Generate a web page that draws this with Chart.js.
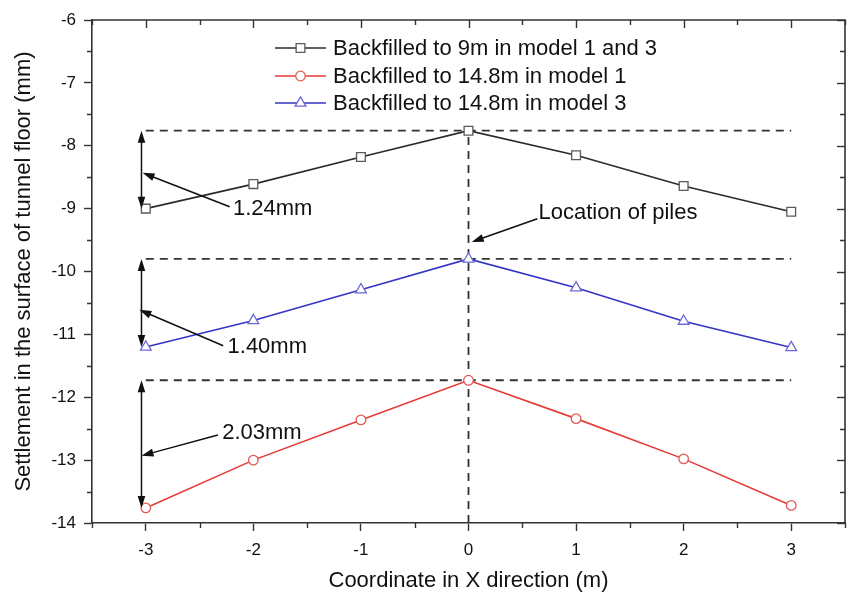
<!DOCTYPE html>
<html>
<head>
<meta charset="utf-8">
<script src="https://cdn.jsdelivr.net/npm/chart.js@4/dist/chart.umd.min.js"></script>
<style>
  html, body { margin: 0; padding: 0; background: #ffffff; }
  #wrap { width: 848px; height: 592px; }
</style>
</head>
<body>
<div id="wrap"><canvas id="c" width="848" height="592"></canvas></div>
<script>
// ---- data -------------------------------------------------------------
const xPositions = [-3, -2, -1, 0, 1, 2, 3];
const backfill9m = [-9.00, -8.61, -8.18, -7.76, -8.15, -8.64, -9.05];
const backfill148Model1 = [-13.76, -13.00, -12.36, -11.73, -12.34, -12.98, -13.72];
const backfill148Model3 = [-11.20, -10.78, -10.29, -9.80, -10.26, -10.79, -11.21];
const seriesLabels = [
  'Backfilled to 9m in model 1 and 3',
  'Backfilled to 14.8m in model 1',
  'Backfilled to 14.8m in model 3'
];
const xTickValues = [-3, -2, -1, 0, 1, 2, 3];
const yTickValues = [-14, -13, -12, -11, -10, -9, -8, -7, -6];
const pileLabel = 'Location of piles';

// ---- styling ----------------------------------------------------------
const FONT = '"Liberation Sans", Arial, Helvetica, sans-serif';
const AXIS_COLOR = '#333333';
const seriesStyles = [
  { line: '#2b2b2b', point: '#5a5a5a', shape: 'rect', radius: 6.2 },
  { line: '#e63a36', point: '#e25a56', shape: 'circle', radius: 4.8 },
  { line: '#3434c6', point: '#6a6ad8', shape: 'triangle', radius: 6.2 }
];
const seriesValues = [backfill9m, backfill148Model1, backfill148Model3];

function toPoints(values) {
  return xPositions.map((x, i) => ({ x: x, y: values[i] }));
}

const datasets = seriesValues.map((vals, i) => ({
  label: seriesLabels[i],
  data: toPoints(vals),
  borderColor: seriesStyles[i].line,
  borderWidth: 1.6,
  pointStyle: seriesStyles[i].shape,
  pointRadius: seriesStyles[i].radius,
  pointBorderColor: seriesStyles[i].point,
  pointBackgroundColor: '#ffffff',
  pointBorderWidth: 1.3,
  tension: 0,
  fill: false
}));

// annotation layout (data units)
const gapArrowX = -3.04;
// order: 9m series, 14.8m model 3, 14.8m model 1
const gapSeries = [0, 2, 1];
const gapLabelAt = [[-2.19, -9.00], [-2.24, -11.20], [-2.29, -12.57]];
const gapPointerFrom = [[-2.22, -8.97], [-2.28, -11.18], [-2.33, -12.60]];
const gapPointerTo = [[-3.03, -8.43], [-3.06, -10.61], [-3.04, -12.93]];
const pileLabelAt = [0.65, -9.07];
const pilePointerFrom = [0.64, -9.16];
const pilePointerTo = [0.03, -9.53];

function peakOf(values) { return values[xPositions.indexOf(0)]; }
function edgeOf(values) { return values[0]; }

function arrowHead(ctx, x0, y0, x1, y1, len, half) {
  const a = Math.atan2(y1 - y0, x1 - x0);
  ctx.beginPath();
  ctx.moveTo(x1, y1);
  ctx.lineTo(x1 - len * Math.cos(a) + half * Math.sin(a), y1 - len * Math.sin(a) - half * Math.cos(a));
  ctx.lineTo(x1 - len * Math.cos(a) - half * Math.sin(a), y1 - len * Math.sin(a) + half * Math.cos(a));
  ctx.closePath();
  ctx.fill();
}

function arrow(ctx, x0, y0, x1, y1) {
  const a = Math.atan2(y1 - y0, x1 - x0);
  ctx.beginPath();
  ctx.moveTo(x0, y0);
  ctx.lineTo(x1 - 8 * Math.cos(a), y1 - 8 * Math.sin(a));
  ctx.stroke();
  arrowHead(ctx, x0, y0, x1, y1, 12, 4);
}

function drawMarker(ctx, shape, x, y, r) {
  ctx.beginPath();
  if (shape === 'rect') {
    const s = Math.SQRT1_2 * r;
    ctx.rect(x - s, y - s, 2 * s, 2 * s);
  } else if (shape === 'circle') {
    ctx.arc(x, y, r, 0, Math.PI * 2);
  } else {
    let rad = 0;
    ctx.moveTo(x + Math.sin(rad) * r, y - Math.cos(rad) * r);
    rad += 2 * Math.PI / 3;
    ctx.lineTo(x + Math.sin(rad) * r, y - Math.cos(rad) * r);
    rad += 2 * Math.PI / 3;
    ctx.lineTo(x + Math.sin(rad) * r, y - Math.cos(rad) * r);
    ctx.closePath();
  }
  ctx.fill();
  ctx.stroke();
}

// dashed reference lines behind the series
const referenceLines = {
  id: 'referenceLines',
  beforeDatasetsDraw(chart) {
    const { ctx, scales: { x, y } } = chart;
    ctx.save();
    ctx.strokeStyle = '#333333';
    ctx.lineWidth = 1.8;
    ctx.setLineDash([8, 6]);
    seriesValues.forEach(vals => {
      const py = y.getPixelForValue(peakOf(vals));
      ctx.beginPath();
      ctx.moveTo(x.getPixelForValue(xPositions[0]), py);
      ctx.lineTo(x.getPixelForValue(xPositions[xPositions.length - 1]), py);
      ctx.stroke();
    });
    ctx.beginPath();
    ctx.moveTo(x.getPixelForValue(0), y.getPixelForValue(y.min));
    ctx.lineTo(x.getPixelForValue(0), y.getPixelForValue(peakOf(backfill9m)));
    ctx.stroke();
    ctx.restore();
  }
};

// gap arrows, labels, frame ticks and legend
const decorations = {
  id: 'decorations',
  afterDatasetsDraw(chart) {
    const { ctx, scales: { x, y } } = chart;
    ctx.save();
    ctx.strokeStyle = '#111111';
    ctx.fillStyle = '#111111';
    ctx.lineWidth = 1.5;
    ctx.setLineDash([]);

    gapSeries.forEach((si, k) => {
      const vals = seriesValues[si];
      const px = x.getPixelForValue(gapArrowX);
      const top = y.getPixelForValue(peakOf(vals));
      const bot = y.getPixelForValue(edgeOf(vals));
      ctx.beginPath();
      ctx.moveTo(px, top + 8);
      ctx.lineTo(px, bot - 8);
      ctx.stroke();
      arrowHead(ctx, px, bot, px, top, 12, 3.8);
      arrowHead(ctx, px, top, px, bot, 12, 3.8);

      arrow(ctx,
        x.getPixelForValue(gapPointerFrom[k][0]), y.getPixelForValue(gapPointerFrom[k][1]),
        x.getPixelForValue(gapPointerTo[k][0]), y.getPixelForValue(gapPointerTo[k][1]));

      const gap = (peakOf(vals) - edgeOf(vals)).toFixed(2) + 'mm';
      ctx.font = '22px ' + FONT;
      ctx.textAlign = 'left';
      ctx.textBaseline = 'middle';
      ctx.fillText(gap, x.getPixelForValue(gapLabelAt[k][0]), y.getPixelForValue(gapLabelAt[k][1]));
    });

    arrow(ctx,
      x.getPixelForValue(pilePointerFrom[0]), y.getPixelForValue(pilePointerFrom[1]),
      x.getPixelForValue(pilePointerTo[0]), y.getPixelForValue(pilePointerTo[1]));
    ctx.font = '22px ' + FONT;
    ctx.textAlign = 'left';
    ctx.textBaseline = 'middle';
    ctx.fillText(pileLabel, x.getPixelForValue(pileLabelAt[0]), y.getPixelForValue(pileLabelAt[1]));
    ctx.restore();
  },
  afterDraw(chart) {
    const { ctx, chartArea: a, scales: { x, y } } = chart;
    ctx.save();
    ctx.strokeStyle = AXIS_COLOR;
    ctx.lineWidth = 1.6;
    // top and right frame
    ctx.beginPath();
    ctx.moveTo(a.left, a.top);
    ctx.lineTo(a.right, a.top);
    ctx.lineTo(a.right, a.bottom);
    ctx.stroke();
    ctx.lineWidth = 1.4;
    // ticks
    x.ticks.forEach(t => {
      const px = Math.round(x.getPixelForValue(t.value)) + 0.5;
      const major = xTickValues.includes(t.value);
      const len = major ? 8 : 5;
      ctx.beginPath();
      ctx.moveTo(px, a.top); ctx.lineTo(px, a.top + len);
      if (!major) { ctx.moveTo(px, a.bottom); ctx.lineTo(px, a.bottom + len); }
      ctx.stroke();
    });
    y.ticks.forEach(t => {
      const py = Math.round(y.getPixelForValue(t.value)) + 0.5;
      const major = yTickValues.includes(t.value);
      const len = major ? 8 : 5;
      ctx.beginPath();
      ctx.moveTo(a.right, py); ctx.lineTo(a.right - len, py);
      if (!major) { ctx.moveTo(a.left, py); ctx.lineTo(a.left - len, py); }
      ctx.stroke();
    });

    // legend
    const lx0 = 275, lx1 = 326, tx = 333;
    const rows = [48, 76, 103];
    ctx.font = '22px ' + FONT;
    ctx.textAlign = 'left';
    ctx.textBaseline = 'middle';
    chart.data.datasets.forEach((ds, i) => {
      const yy = rows[i];
      ctx.strokeStyle = ds.borderColor;
      ctx.lineWidth = 1.6;
      ctx.beginPath();
      ctx.moveTo(lx0, yy); ctx.lineTo(lx1, yy);
      ctx.stroke();
      ctx.fillStyle = '#ffffff';
      ctx.strokeStyle = ds.pointBorderColor;
      ctx.lineWidth = 1.3;
      drawMarker(ctx, ds.pointStyle, (lx0 + lx1) / 2, yy, ds.pointRadius);
      ctx.fillStyle = '#111111';
      ctx.fillText(ds.label, tx, yy + 1);
    });
    ctx.restore();
  }
};

const tickFont = { family: FONT, size: 17 };

new Chart(document.getElementById('c'), {
  type: 'line',
  data: { datasets: datasets },
  options: {
    responsive: false,
    animation: false,
    devicePixelRatio: 1,
    layout: { autoPadding: false, padding: { top: 20, right: 3, left: 0, bottom: 0 } },
    plugins: { legend: { display: false }, tooltip: { enabled: false } },
    scales: {
      x: {
        type: 'linear',
        min: -3.5,
        max: 3.5,
        afterFit(scale) {
          scale.height = 69;
          scale.paddingLeft = 0;
          scale.paddingRight = 0;
        },
        ticks: {
          stepSize: 0.5,
          autoSkip: false,
          maxRotation: 0,
          padding: 9,
          color: '#111111',
          font: tickFont,
          callback: v => (xTickValues.includes(v) ? String(v) : '')
        },
        grid: {
          drawOnChartArea: false,
          tickLength: 8,
          tickWidth: 1.4,
          tickColor: c => (c.tick && xTickValues.includes(c.tick.value) ? AXIS_COLOR : 'rgba(0,0,0,0)')
        },
        border: { display: true, color: AXIS_COLOR, width: 1.6 },
        title: {
          display: true,
          text: 'Coordinate in X direction (m)',
          color: '#111111',
          font: { family: FONT, size: 22, lineHeight: 1 },
          padding: { top: 0, bottom: 0 }
        }
      },
      y: {
        type: 'linear',
        min: -14,
        max: -6,
        afterFit(scale) {
          scale.width = 92;
          scale.paddingTop = 0;
          scale.paddingBottom = 0;
        },
        ticks: {
          stepSize: 0.5,
          autoSkip: false,
          padding: 8,
          color: '#111111',
          font: tickFont,
          callback: v => (yTickValues.includes(v) ? String(v) : '')
        },
        grid: {
          drawOnChartArea: false,
          tickLength: 8,
          tickWidth: 1.4,
          tickColor: c => (c.tick && yTickValues.includes(c.tick.value) ? AXIS_COLOR : 'rgba(0,0,0,0)')
        },
        border: { display: true, color: AXIS_COLOR, width: 1.6 },
        title: {
          display: true,
          text: 'Settlement in the surface of tunnel floor (mm)',
          color: '#111111',
          font: { family: FONT, size: 22, lineHeight: 1 },
          padding: { top: 13, bottom: 0 }
        }
      }
    }
  },
  plugins: [referenceLines, decorations]
});
</script>
</body>
</html>
